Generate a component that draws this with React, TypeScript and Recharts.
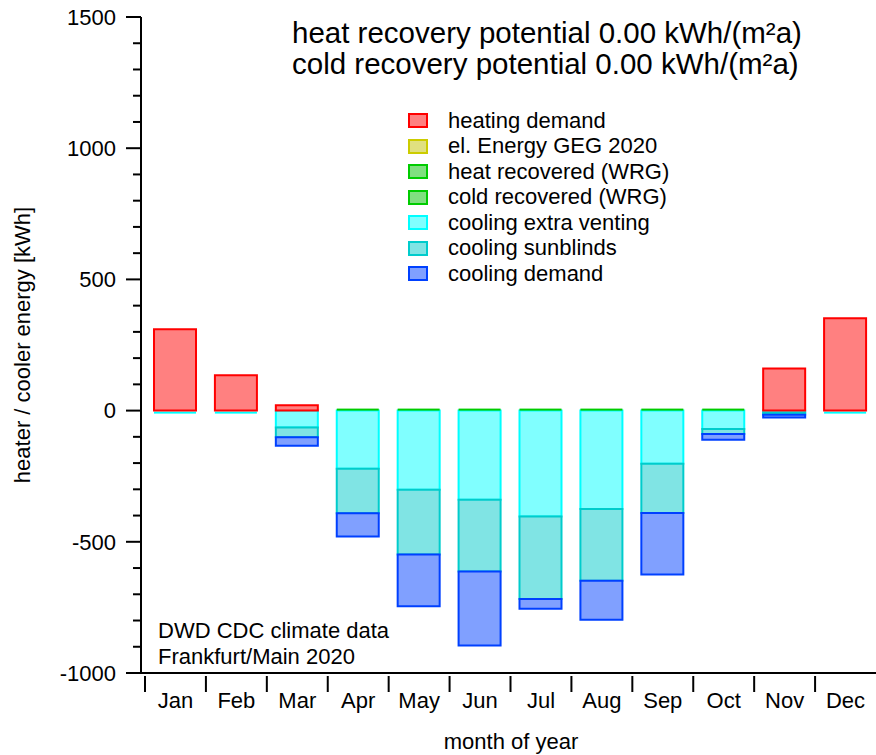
import React from "react";
import { Bar, BarChart, Legend, Rectangle, XAxis, YAxis } from "recharts";

const months = ["Jan", "Feb", "Mar", "Apr", "May", "Jun", "Jul", "Aug", "Sep", "Oct", "Nov", "Dec"];
const heatingDemand = [310, 135, 20, 0, 0, 0, 0, 0, 0, 0, 160, 352];
const elEnergy = [0, 0, 0, 0, 0, 0, 0, 0, 0, 0, 0, 0];
const heatRecovered = [0, 0, 0, 0, 0, 0, 0, 0, 0, 0, 0, 0];
const coldRecovered = [0, 0, 0, 0, 0, 0, 0, 0, 0, 0, 0, 0];
const coolingVenting = [0, 0, -64, -222, -302, -340, -404, -375, -203, -70, -8, 0];
const coolingSunblinds = [0, 0, -38, -169, -246, -273, -314, -273, -187, -19, -8, 0];
const coolingDemand = [0, 0, -32, -89, -198, -282, -37, -149, -235, -22, -10, 0];

const yTicks = [
  -1000, -900, -800, -700, -600, -500, -400, -300, -200, -100, 0, 100, 200, 300, 400, 500, 600, 700, 800, 900,
  1000, 1100, 1200, 1300, 1400, 1500,
];
const yMajor = [-1000, -500, 0, 500, 1000, 1500];

const data = months.map((month, i) => ({
  month,
  heating: heatingDemand[i],
  elEnergy: elEnergy[i],
  heatRec: heatRecovered[i],
  coldRec: coldRecovered[i],
  venting: coolingVenting[i],
  sunblinds: coolingSunblinds[i],
  cooling: coolingDemand[i],
}));

const RED = { fill: "#ff8080", stroke: "#ff0000" };
const YELLOW = { fill: "#e0e080", stroke: "#cccc00" };
const GREEN = { fill: "#80e080", stroke: "#00cc00" };
const CYAN = { fill: "#80ffff", stroke: "#00ffff" };
const TEAL = { fill: "#80e4e4", stroke: "#00cccc" };
const BLUE = { fill: "#80a0ff", stroke: "#0040ff" };

const legendItems = [
  { name: "heating demand", ...RED },
  { name: "el. Energy GEG 2020", ...YELLOW },
  { name: "heat recovered (WRG)", ...GREEN },
  { name: "cold recovered (WRG)", ...GREEN },
  { name: "cooling extra venting", ...CYAN },
  { name: "cooling sunblinds", ...TEAL },
  { name: "cooling demand", ...BLUE },
];

const FONT = '"Liberation Sans", Arial, Helvetica, sans-serif';
const FS = 22;

// zero-valued series still show a thin line at the base, like the original
const zeroLine = (side: "up" | "down") => (props: any) => {
  const { x, y, width, height, stroke } = props;
  if (Math.abs(height) < 0.5) {
    return <rect x={x} y={side === "up" ? y - 2 : y + 1} width={width} height={2} fill={stroke} />;
  }
  return <Rectangle {...props} />;
};

const YTick = (props: any) => {
  const { x, y, payload } = props;
  const major = yMajor.includes(payload.value);
  return (
    <g>
      <line x1={x - (major ? 15 : 8)} x2={x} y1={y} y2={y} stroke="#000" strokeWidth={2} />
      {major && (
        <text x={x - 25} y={y} dy="0.35em" textAnchor="end" fontSize={FS} fill="#000" fontFamily={FONT}>
          {payload.value}
        </text>
      )}
    </g>
  );
};

const XTick = (props: any) => {
  const { x, y, payload } = props;
  const half = payload.offset || (876 - 145) / 24;
  return (
    <g>
      <line x1={x - half} x2={x - half} y1={y + 3} y2={y + 19} stroke="#000" strokeWidth={2} />
      <text x={x} y={y + 35} textAnchor="middle" fontSize={FS} fill="#000" fontFamily={FONT}>
        {payload.value}
      </text>
    </g>
  );
};

const LegendBox = () => (
  <div style={{ fontFamily: FONT, fontSize: FS, color: "#000" }}>
    {legendItems.map((item) => (
      <div key={item.name} style={{ display: "flex", alignItems: "center", height: 25.5, whiteSpace: "nowrap" }}>
        <svg width={20} height={15} style={{ marginRight: 20, flexShrink: 0 }}>
          <rect x={1} y={1} width={18} height={13} fill={item.fill} stroke={item.stroke} strokeWidth={2} />
        </svg>
        {item.name}
      </div>
    ))}
  </div>
);

export default function App() {
  return (
    <div style={{ position: "absolute", left: 0, top: 0, width: 876, height: 755, fontFamily: FONT, background: "#fff" }}>
      <BarChart
        width={876}
        height={755}
        data={data}
        stackOffset="sign"
        barSize={42}
        margin={{ top: 17, right: 0, bottom: 0, left: 13 }}
      >
        <XAxis
          dataKey="month"
          interval={0}
          height={82}
          tickLine={false}
          tickSize={0}
          tickMargin={0}
          padding={{ left: 4, right: 0 }}
          axisLine={{ stroke: "#000", strokeWidth: 2 }}
          tick={<XTick />}
        />
        <YAxis
          type="number"
          domain={[-1000, 1500]}
          ticks={yTicks}
          interval={0}
          width={128}
          allowDataOverflow
          tickLine={false}
          tickSize={0}
          tickMargin={0}
          axisLine={{ stroke: "#000", strokeWidth: 2 }}
          tick={<YTick />}
        />
        <Legend
          layout="vertical"
          align="center"
          verticalAlign="middle"
          content={<LegendBox />}
          wrapperStyle={{ left: 408, top: 108, width: 340 }}
        />
        <Bar dataKey="venting" name="cooling extra venting" stackId="a" {...CYAN} strokeWidth={2} shape={zeroLine("down")} isAnimationActive={false} />
        <Bar dataKey="sunblinds" name="cooling sunblinds" stackId="a" {...TEAL} strokeWidth={2} isAnimationActive={false} />
        <Bar dataKey="cooling" name="cooling demand" stackId="a" {...BLUE} strokeWidth={2} isAnimationActive={false} />
        <Bar dataKey="heatRec" name="heat recovered (WRG)" stackId="a" {...GREEN} strokeWidth={2} shape={zeroLine("up")} isAnimationActive={false} />
        <Bar dataKey="coldRec" name="cold recovered (WRG)" stackId="a" {...GREEN} strokeWidth={2} isAnimationActive={false} />
        <Bar dataKey="elEnergy" name="el. Energy GEG 2020" stackId="a" {...YELLOW} strokeWidth={2} isAnimationActive={false} />
        <Bar dataKey="heating" name="heating demand" stackId="a" {...RED} strokeWidth={2} isAnimationActive={false} />

        <text x={292} y={43} fontSize={29.5} fill="#000" fontFamily={FONT}>
          heat recovery potential 0.00 kWh/(m²a)
        </text>
        <text x={292} y={74} fontSize={29.5} fill="#000" fontFamily={FONT}>
          cold recovery potential 0.00 kWh/(m²a)
        </text>
        <text x={158} y={638} fontSize={FS} fill="#000" fontFamily={FONT}>
          DWD CDC climate data
        </text>
        <text x={158} y={664} fontSize={FS} fill="#000" fontFamily={FONT}>
          Frankfurt/Main 2020
        </text>
        <text x={511} y={749} textAnchor="middle" fontSize={FS} fill="#000" fontFamily={FONT}>
          month of year
        </text>
        <text
          x={22}
          y={345}
          transform="rotate(-90 22 345)"
          textAnchor="middle"
          dy="0.35em"
          fontSize={FS}
          fill="#000"
          fontFamily={FONT}
        >
          heater / cooler energy [kWh]
        </text>
      </BarChart>
    </div>
  );
}
